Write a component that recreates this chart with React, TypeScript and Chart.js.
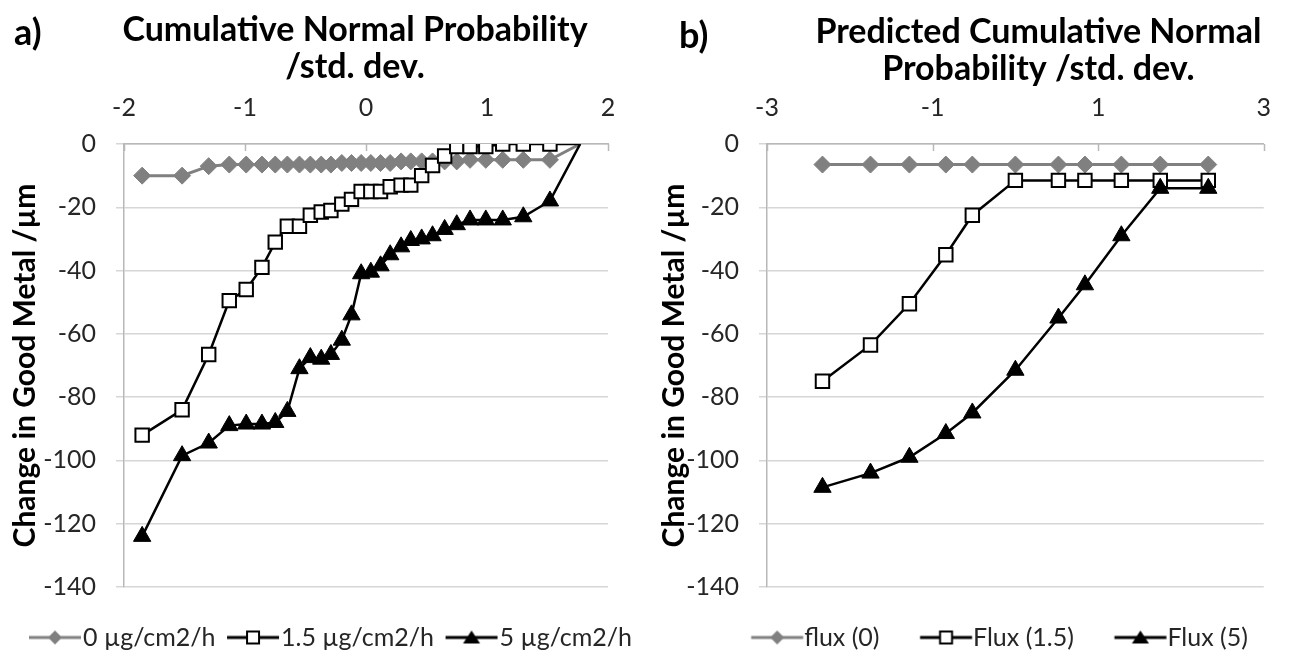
import React, { useEffect, useRef } from 'react';
import { Chart, registerables } from 'chart.js';

Chart.register(...registerables);

// ---------- data: panel a ----------
const xA = [-1.85, -1.52, -1.3, -1.13, -0.99, -0.86, -0.75, -0.65, -0.55, -0.46, -0.37, -0.29, -0.2, -0.12, -0.04, 0.04, 0.12, 0.2, 0.29, 0.37, 0.46, 0.55, 0.65, 0.75, 0.86, 0.99, 1.13, 1.3, 1.52, 1.77];
const flux0A = [-10, -10, -7, -6.5, -6.5, -6.5, -6.5, -6.5, -6.5, -6.5, -6.5, -6.5, -6, -6, -6, -6, -6, -6, -5.5, -5.5, -5.5, -5.5, -5.5, -5.5, -5, -5, -5, -5, -5, 0];
const flux15A = [-92, -84, -66.5, -49.5, -46, -39, -31, -26, -26, -22.5, -21.5, -21, -19, -17.5, -15, -15, -15, -13.5, -13, -13, -10, -6.8, -3.8, -0.8, -0.8, -0.8, 0, 0, 0, 0];
const flux5A = [-124, -98.5, -94.5, -89, -88.5, -88.5, -88, -84.5, -71, -67.5, -68, -66.5, -62, -54, -41, -40.5, -38.5, -35, -32.5, -30.5, -30, -29, -27, -25.5, -24, -24, -24, -23, -18, 0];
const labelsA = ['0 µg/cm2/h', '1.5 µg/cm2/h', '5 µg/cm2/h'];
const xTicksA = [-2, -1, 0, 1, 2];
const xTitleA = ['Cumulative Normal Probability', '/std. dev.'];

// ---------- data: panel b ----------
const xB = [-2.33, -1.75, -1.28, -0.84, -0.52, 0, 0.52, 0.84, 1.28, 1.75, 2.33];
const flux0B = [-6.5, -6.5, -6.5, -6.5, -6.5, -6.5, -6.5, -6.5, -6.5, -6.5, -6.5];
const flux15B = [-75, -63.5, -50.5, -35, -22.5, -11.5, -11.5, -11.5, -11.5, -11.5, -11.5];
const flux5B = [-108.5, -104, -99, -91.5, -85, -71.5, -55, -44.5, -29, -14, -14];
const labelsB = ['flux (0)', 'Flux (1.5)', 'Flux (5)'];
const xTicksB = [-3, -1, 1, 3];
const xTitleB = ['Predicted Cumulative Normal', 'Probability /std. dev.'];

const yTicks = [0, -20, -40, -60, -80, -100, -120, -140];
const yTitle = 'Change in Good Metal /µm';

// ---------- styles ----------
const FONT = 'Lato';
const GRAY = '#808080';
const GRID = '#d6d6d6';
const AXIS = '#b8b8b8';
const TICK = '#262626';
const TICK_SIZE = 25;
const LEGEND_SIZE = 25;
const XTITLE_SIZE = 34;
const XTITLE_LH = 1.08;
const YTITLE_SIZE = 30;

type Kind = 'diamond' | 'square' | 'triangle';

function makeIcon(kind: Kind, offset: number) {
  const half = 26;
  const w = Math.ceil(2 * (half + Math.abs(offset)) + 4);
  const h = 26;
  const c = document.createElement('canvas');
  c.width = w;
  c.height = h;
  const g = c.getContext('2d')!;
  const cx = w / 2 + offset;
  const cy = h / 2;
  const col = kind === 'diamond' ? GRAY : '#000';
  g.strokeStyle = col;
  g.lineWidth = 3;
  g.beginPath();
  g.moveTo(cx - half, cy);
  g.lineTo(cx + half, cy);
  g.stroke();
  if (kind === 'diamond') {
    g.fillStyle = GRAY;
    g.beginPath();
    g.moveTo(cx, cy - 7);
    g.lineTo(cx + 7, cy);
    g.lineTo(cx, cy + 7);
    g.lineTo(cx - 7, cy);
    g.closePath();
    g.fill();
  } else if (kind === 'square') {
    g.fillStyle = '#fff';
    g.fillRect(cx - 6, cy - 6, 12, 12);
    g.lineWidth = 2;
    g.strokeRect(cx - 6, cy - 6, 12, 12);
  } else {
    g.fillStyle = '#000';
    g.beginPath();
    g.moveTo(cx, cy - 7);
    g.lineTo(cx + 8.5, cy + 6);
    g.lineTo(cx - 8.5, cy + 6);
    g.closePath();
    g.fill();
  }
  return c;
}

function makeSeries(xs: number[], ys: number[], kind: Kind, label: string, hideLast: boolean) {
  const spec: any = {
    diamond: { style: 'rectRot', r: 8.5, bg: GRAY, bc: GRAY, bw: 1, line: GRAY, lw: 3, order: 3 },
    square: { style: 'rect', r: 9.5, bg: '#ffffff', bc: '#000000', bw: 2, line: '#000000', lw: 2.5, order: 2 },
    triangle: { style: 'triangle', r: 10, bg: '#000000', bc: '#000000', bw: 1, line: '#000000', lw: 2.5, order: 1 },
  }[kind];
  const n = ys.length;
  return {
    label,
    data: xs.map((x, i) => ({ x, y: ys[i] })),
    showLine: true,
    borderColor: spec.line,
    borderWidth: spec.lw,
    pointStyle: spec.style,
    pointRadius: (c: any) => (hideLast && c.dataIndex === n - 1 ? 0 : spec.r),
    pointBackgroundColor: spec.bg,
    pointBorderColor: spec.bc,
    pointBorderWidth: spec.bw,
    pointHoverRadius: spec.r,
    order: spec.order,
    tension: 0,
  };
}

const innerTicks = {
  id: 'innerTicks',
  beforeDatasetsDraw(chart: any) {
    const s = chart.scales.x;
    const top = chart.chartArea.top;
    const g = chart.ctx;
    g.save();
    g.strokeStyle = AXIS;
    g.lineWidth = 1.5;
    s.ticks.forEach((t: any) => {
      const px = Math.round(s.getPixelForValue(t.value)) + 0.5;
      g.beginPath();
      g.moveTo(px, top);
      g.lineTo(px, top + 7);
      g.stroke();
    });
    g.restore();
  },
};

interface PanelCfg {
  xs: number[];
  series: number[][];
  labels: string[];
  xTicks: number[];
  xMin: number;
  xMax: number;
  xTitle: string[];
  hideLast: boolean;
  padL: number;
  plotLeft: number;
  plotRight: number;
  width: number;
  legendAlign: 'start' | 'center';
  legendPad: number;
  boxW: number;
  symCenterFromText: number;
  yTitleCenter: number;
  xTitleFirstLine: number;
  xTitleShift: number;
}

function buildChart(canvas: HTMLCanvasElement, p: PanelCfg) {
  const kinds: Kind[] = ['diamond', 'square', 'triangle'];
  const half = LEGEND_SIZE / 2;
  const offset = p.boxW / 2 + half - p.symCenterFromText;
  const icons = kinds.map((k) => makeIcon(k, offset));
  const datasets = kinds.map((k, i) => makeSeries(p.xs, p.series[i], k, p.labels[i], p.hideLast));
  const yTitleLH = YTITLE_SIZE * 1.2;
  const xTitleLH = XTITLE_SIZE * XTITLE_LH;
  const plotBottom = 587;
  const legendTextCenter = 637.5;
  const legendTitlePad = legendTextCenter - plotBottom - p.legendPad - half - 1.2;
  return new Chart(canvas, {
    type: 'scatter',
    data: { datasets } as any,
    plugins: [innerTicks],
    options: {
      responsive: false,
      animation: false,
      devicePixelRatio: 1,
      events: [],
      layout: { padding: { left: p.padL, right: 0, top: 0, bottom: -3 } },
      scales: {
        x: {
          type: 'linear',
          position: 'top',
          min: p.xMin,
          max: p.xMax,
          afterBuildTicks: (s: any) => {
            s.ticks = p.xTicks.map((v) => ({ value: v }));
          },
          afterFit: (s: any) => {
            s.height = 144;
            if (!s.__shifted) {
              const orig = s.drawTitle;
              s.drawTitle = function () {
                this.ctx.save();
                this.ctx.translate(p.xTitleShift, 0);
                orig.call(this);
                this.ctx.restore();
              };
              s.__shifted = true;
            }
          },
          grid: { display: true, drawOnChartArea: false, drawTicks: false, color: 'rgba(0,0,0,0)' },
          border: { display: true, color: AXIS, width: 1.5 },
          ticks: { font: { family: FONT, size: TICK_SIZE }, color: TICK, padding: 21, maxRotation: 0, autoSkip: false },
          title: {
            display: true,
            text: p.xTitle,
            color: '#000',
            font: { family: FONT, size: XTITLE_SIZE, weight: 'bold', lineHeight: XTITLE_LH },
            padding: { top: p.xTitleFirstLine - xTitleLH / 2, bottom: 0 },
          },
        },
        y: {
          type: 'linear',
          position: 'left',
          min: -140,
          max: 0,
          afterBuildTicks: (s: any) => {
            s.ticks = yTicks.map((v) => ({ value: v }));
          },
          afterFit: (s: any) => {
            s.width = p.plotLeft - p.padL;
          },
          grid: { color: GRID, lineWidth: 1.5, tickLength: 8, drawTicks: true },
          border: { display: true, color: AXIS, width: 1.5 },
          ticks: { font: { family: FONT, size: TICK_SIZE }, color: TICK, padding: 20, autoSkip: false },
          title: {
            display: true,
            text: yTitle,
            color: '#000',
            font: { family: FONT, size: YTITLE_SIZE, weight: 'bold' },
            padding: { top: p.yTitleCenter - p.padL - yTitleLH / 2, bottom: 0 },
          },
        },
        yR: {
          type: 'linear',
          position: 'right',
          display: true,
          afterFit: (s: any) => {
            s.width = p.width - p.plotRight;
          },
          grid: { display: false, drawTicks: false },
          border: { display: false },
          ticks: { display: false },
        },
      } as any,
      plugins: {
        tooltip: { enabled: false },
        legend: {
          position: 'bottom',
          align: p.legendAlign,
          title: { display: true, text: ' ', font: { size: 1 }, padding: { top: legendTitlePad, bottom: 0 } },
          labels: {
            usePointStyle: true,
            pointStyleWidth: p.boxW,
            padding: p.legendPad,
            color: TICK,
            font: { family: FONT, size: LEGEND_SIZE },
            generateLabels: (chart: any) =>
              chart.data.datasets.map((ds: any, i: number) => ({
                text: ds.label,
                pointStyle: icons[i],
                fillStyle: 'rgba(0,0,0,0)',
                strokeStyle: 'rgba(0,0,0,0)',
                lineWidth: 0,
                hidden: false,
                datasetIndex: i,
                fontColor: TICK,
              })),
          },
        },
      } as any,
    } as any,
  });
}

export default function App() {
  const refA = useRef<HTMLCanvasElement>(null);
  const refB = useRef<HTMLCanvasElement>(null);

  useEffect(() => {
    let cancelled = false;
    const charts: Chart[] = [];
    const make = () => {
      if (cancelled || !refA.current || !refB.current) return;
      charts.push(
        buildChart(refA.current, {
          xs: xA,
          series: [flux0A, flux15A, flux5A],
          labels: labelsA,
          xTicks: xTicksA,
          xMin: -2,
          xMax: 2,
          xTitle: xTitleA,
          hideLast: true,
          padL: 17.5,
          plotLeft: 124,
          plotRight: 608,
          width: 650,
          legendAlign: 'start',
          legendPad: 10,
          boxW: 43,
          symCenterFromText: 28,
          yTitleCenter: 25,
          xTitleFirstLine: 30,
          xTitleShift: -11,
        })
      );
      charts.push(
        buildChart(refB.current, {
          xs: xB,
          series: [flux0B, flux15B, flux5B],
          labels: labelsB,
          xTicks: xTicksB,
          xMin: -3,
          xMax: 3,
          xTitle: xTitleB,
          hideLast: false,
          padL: 36,
          plotLeft: 117,
          plotRight: 620,
          width: 642,
          legendAlign: 'center',
          legendPad: 19.5,
          boxW: 61.5,
          symCenterFromText: 27,
          yTitleCenter: 24.5,
          xTitleFirstLine: 32,
          xTitleShift: 23,
        })
      );
    };
    const fonts = (document as any).fonts;
    if (fonts && fonts.load) {
      Promise.all([fonts.load(`bold 30px ${FONT}`), fonts.load(`25px ${FONT}`)])
        .catch(() => null)
        .then(make);
    } else {
      make();
    }
    return () => {
      cancelled = true;
      charts.forEach((c) => c.destroy());
    };
  }, []);

  const tag: React.CSSProperties = {
    position: 'absolute',
    fontFamily: FONT,
    fontWeight: 'bold',
    fontSize: 36,
    lineHeight: '36px',
    color: '#000',
  };

  return (
    <div style={{ position: 'absolute', left: 0, top: 0, width: 1292, height: 657, background: '#fff', overflow: 'hidden' }}>
      <canvas ref={refA} width={650} height={657} style={{ position: 'absolute', left: 0, top: 0 }} />
      <canvas ref={refB} width={642} height={657} style={{ position: 'absolute', left: 650, top: 0 }} />
      <div style={{ ...tag, left: 14, top: 13 }}>a)</div>
      <div style={{ ...tag, left: 679, top: 16 }}>b)</div>
    </div>
  );
}
